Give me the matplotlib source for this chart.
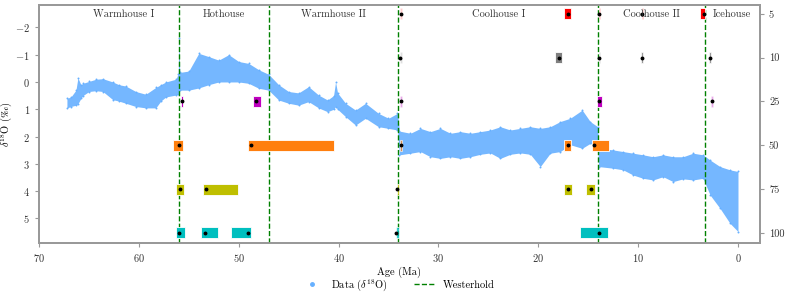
import matplotlib.pyplot as plt
from matplotlib.lines import Line2D

plt.rcParams["font.family"] = ["cmr10", "DejaVu Serif"]
plt.rcParams["mathtext.fontset"] = "cm"
plt.rcParams["axes.formatter.use_mathtext"] = True
plt.rcParams["font.size"] = 7.5

# ── data: envelope of the d18O point cloud ───────────────────────────────────
age = [67.2, 66.8, 66.3, 66.1, 65.8, 65.6, 65.0, 64.3, 63.6, 62.6, 62.0, 61.3,
       60.3, 59.3, 58.3, 57.8, 57.3, 56.3, 56.05, 56.0, 55.9, 55.0, 54.0, 53.0,
       52.0, 51.0, 50.0, 49.0, 48.0, 47.0, 46.0, 45.0, 44.0, 43.0, 42.0, 41.1,
       40.5, 40.3, 40.1, 39.3, 38.3, 37.3, 36.0, 35.0, 34.1, 33.9, 32.8, 31.8,
       30.8, 29.8, 28.8, 27.8, 26.8, 25.8, 24.8, 23.8, 22.8, 21.8, 20.8, 19.8,
       18.8, 17.8, 16.8, 15.6, 14.8, 14.05, 13.95, 12.5, 11.5, 10.5, 9.5, 8.5,
       7.5, 6.5, 5.5, 4.5, 3.5, 2.8, 1.8, 0.8, 0.0]
d18o_min = [0.6, 0.55, 0.3, -0.15, 0.1, 0.05, -0.02, -0.1, -0.12, 0.0, 0.1, 0.15,
            0.35, 0.45, 0.2, 0.1, 0.0, -0.1, -0.3, -1.6, -0.35, -0.4, -1.05, -0.93,
            -0.8, -1.0, -0.75, -0.68, -0.45, -0.28, 0.1, 0.35, 0.4, 0.17, 0.48, 0.66,
            0.5, 0.0, 0.4, 0.78, 1.03, 0.78, 1.15, 1.33, 1.15, 1.8, 1.88, 1.7,
            1.82, 1.7, 1.88, 1.82, 1.88, 1.82, 1.76, 1.64, 1.76, 1.7, 1.64, 1.7,
            1.64, 1.45, 1.33, 1.03, 1.45, 1.64, 2.43, 2.49, 2.55, 2.61, 2.67, 2.74,
            2.67, 2.74, 2.74, 2.61, 2.67, 2.86, 3.1, 3.22, 3.28]
d18o_max = [0.95, 0.9, 0.85, 0.8, 0.6, 0.5, 0.35, 0.32, 0.35, 0.65, 0.7, 0.78,
            0.9, 0.95, 0.95, 0.7, 0.55, 0.48, 0.45, 0.3, 0.3, 0.3, 0.22, 0.1,
            0.0, 0.0, 0.0, 0.05, 0.23, 0.3, 0.66, 0.78, 0.85, 0.72, 0.95, 1.09,
            1.0, 0.9, 1.0, 1.27, 1.58, 1.33, 1.64, 1.7, 1.76, 2.67, 2.61, 2.55,
            2.74, 2.8, 2.74, 2.8, 2.74, 2.65, 2.6, 2.8, 2.65, 2.6, 2.65, 3.1,
            2.61, 2.55, 2.3, 2.43, 2.25, 2.37, 3.1, 3.16, 3.22, 3.41, 3.53, 3.59,
            3.47, 3.65, 3.55, 3.59, 3.53, 4.14, 4.63, 5.18, 5.48]

boundaries = [56.0, 47.0, 34.0, 14.0, 3.3]
regimes = ["Warmhouse I", "Hothouse", "Warmhouse II", "Coolhouse I", "Coolhouse II", "Icehouse"]
regime_age = [61.5, 51.5, 40.5, 24.0, 8.65, 0.6]

windows = ["5", "10", "25", "50", "75", "100"]
window_colors = ["red", "gray", "m", "tab:orange", "y", "c"]
# detected change points per window: (start, end, mark, strength)
detections = [
    [(33.8, 33.6, 33.7, 0.2), (17.4, 16.7, 17.0, 1.0), (13.95, 13.8, 13.9, 0.6),
     (9.65, 9.55, 9.6, 0.7), (3.8, 3.35, 3.4, 1.0)],
    [(33.85, 33.65, 33.8, 0.25), (18.3, 17.6, 17.9, 1.0), (13.95, 13.8, 13.9, 0.6),
     (9.7, 9.5, 9.6, 0.8), (2.9, 2.7, 2.8, 0.8)],
    [(55.8, 55.6, 55.7, 1.0), (48.6, 47.8, 48.3, 1.0), (33.8, 33.6, 33.7, 0.35),
     (14.1, 13.6, 13.9, 1.0), (2.7, 2.5, 2.6, 0.35)],
    [(56.6, 55.6, 56.0, 1.0), (49.1, 40.5, 48.8, 1.0), (33.8, 33.6, 33.7, 0.7),
     (17.4, 16.7, 17.0, 1.0), (14.6, 12.9, 14.4, 1.0)],
    [(56.3, 55.5, 55.9, 1.0), (53.6, 50.1, 53.3, 1.0), (34.1, 33.9, 34.1, 0.8),
     (17.4, 16.6, 17.0, 1.0), (15.2, 14.3, 14.7, 1.0)],
    [(56.3, 55.4, 56.0, 1.0), (53.8, 52.1, 53.4, 1.0), (50.8, 48.8, 49.1, 1.0),
     (34.2, 33.9, 34.2, 0.8), (15.8, 13.0, 13.9, 1.0)],
]

data_color = "#66b0ff"
spine_color = "#999999"

fig = plt.figure(figsize=(7.89, 3.02), dpi=100)
ax = fig.add_axes([0.0494, 0.1954, 0.9138, 0.788])

ax.fill_between(age, d18o_min, d18o_max, color=data_color, linewidth=0, alpha=0.9, zorder=1)
ax.scatter(age, d18o_min, s=2, color=data_color, linewidths=0, zorder=1)
ax.scatter(age, d18o_max, s=2, color=data_color, linewidths=0, zorder=1)
for b in boundaries:
    ax.axvline(b, color="g", linestyle="--", linewidth=1.0, zorder=4)

ax.set_xlim(70, -2.2)
ax.set_ylim(5.9, -2.82)
ax.set_yticks([-2, -1, 0, 1, 2, 3, 4, 5])
ax.set_xticks([70, 60, 50, 40, 30, 20, 10, 0])
ax.set_xlabel("Age (Ma)", labelpad=2)
ax.set_ylabel(r"$\delta^{18}\mathrm{O}\ (‰)$")
ax.yaxis.set_label_coords(-0.034, 0.5)

ax2 = ax.twinx()
ax2.set_ylim(5.23, -0.2)
ax2.set_yticks(range(len(windows)))
ax2.set_yticklabels(windows)
for i, (rows, col) in enumerate(zip(detections, window_colors)):
    for start, end, mark, strength in rows:
        ax2.barh(i, start - end, left=end, height=0.25, color=col, alpha=strength,
                 edgecolor="white", linewidth=0.6, zorder=3)
        ax2.plot(mark, i, "o", color="black", markersize=1.8, zorder=5)

for name, a in zip(regimes, regime_age):
    ax2.text(a, 0, name, ha="center", va="center", color="#333333", zorder=6)

for a in (ax, ax2):
    for s in a.spines.values():
        s.set_color(spine_color)
        s.set_linewidth(1.3)
    a.tick_params(colors="#333333", length=3, width=0.8)
    a.tick_params(axis="both", color=spine_color)

handles = [Line2D([], [], marker="o", markersize=2.5, linestyle="", color=data_color),
           Line2D([], [], color="g", linestyle="--", linewidth=1.0)]
fig.legend(handles, [r"Data ($\delta^{18}$O)", "Westerhold"], loc="center",
           bbox_to_anchor=(0.505, 0.056), ncol=2, frameon=False, columnspacing=2.5)

plt.savefig("out.png", dpi=100)
